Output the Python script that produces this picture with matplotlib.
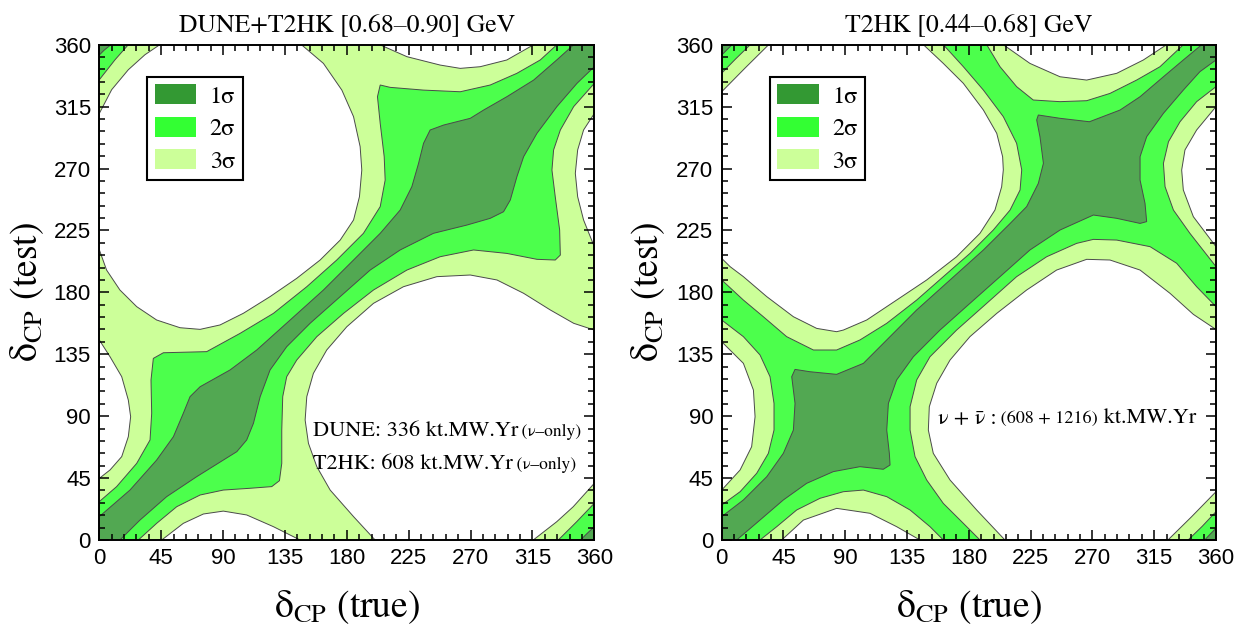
import matplotlib
matplotlib.use('Agg')
import matplotlib.pyplot as plt
from matplotlib.patches import Polygon, Patch
from matplotlib.ticker import MultipleLocator

plt.rcParams['mathtext.fontset'] = 'stix'
SERIF = ['STIXGeneral', 'DejaVu Serif']
SANS = ['Liberation Sans', 'DejaVu Sans']

# ---------------- data (degrees) ----------------
tick_values = [0, 45, 90, 135, 180, 225, 270, 315, 360]
legend_labels = ['1σ', '2σ', '3σ']
titles = ['DUNE+T2HK [0.68–0.90] GeV', 'T2HK [0.44–0.68] GeV']

# Left panel: contour regions (boundary points)
L_white_A = [(44, 360), (147, 360), (163, 346.4), (176.4, 327), (184.9, 307.7), (189.7, 285.9),
             (190.9, 268.9), (189.2, 249.5), (184.9, 232.6), (175.2, 218), (160.6, 203.5),
             (143.6, 190.2), (124.2, 176.9), (104.8, 164.8), (87.8, 156.3), (73.3, 153.1),
             (58.7, 154.3), (41.7, 159.9), (27.2, 169.6), (15, 181.7), (5.3, 196.2), (0, 211),
             (0, 310), (9, 327.3), (21.1, 341.8), (33.2, 352.7)]
L_white_B = [(200.6, 0), (184.9, 17), (167.9, 36.3), (158.2, 53.3), (152.1, 70.3), (149.7, 87.2),
             (150.9, 104.2), (155.7, 121.1), (165.4, 138.1), (180, 155), (199.4, 172),
             (221.2, 184.1), (245.5, 191.4), (269.8, 192.6), (289.2, 189), (308.6, 179.3),
             (328, 167.2), (345, 157.5), (360, 152.6), (360, 41.2), (344.7, 24.2),
             (332.7, 13.3), (315.6, 0)]
L_white_C = [(0, 145.4), (7.8, 133.2), (16.3, 118.7), (21.1, 101.7), (22.8, 89.6), (21.1, 75.1),
             (16.3, 60.6), (7.8, 50.9), (0, 44.8)]
L_white_D = [(204, 360), (223.7, 351.3), (247.9, 345.2), (262.5, 342.8), (277, 344),
             (296.4, 348.9), (315.9, 360)]
L_white_E = [(360, 310), (352.2, 298), (347.9, 283.5), (346.2, 266.5), (347.9, 249.5),
             (352.2, 232.6), (360, 213.2)]
L_white_F = [(45.4, 0), (61.1, 12.1), (75.7, 18.9), (90.2, 21), (107.2, 18.2), (126.6, 9.7),
             (146, 0)]
L_sig2_main = [(0, 0), (28.4, 0), (41.7, 12.1), (56.3, 24.2), (73.3, 32.7), (90.2, 36.3),
               (109.7, 37.6), (125.4, 38.8), (131, 43.1), (132.7, 55.7), (132.7, 79.9),
               (133.4, 104.2), (136.3, 118.7), (143.6, 130.8), (158.2, 147.8), (177.6, 164.7),
               (199.4, 181.7), (223.7, 196.2), (247.9, 205.9), (272.2, 210.8), (296.4, 208.3),
               (318.3, 204), (331.6, 203.5), (335.3, 207.1), (334.8, 225.3), (331.6, 249.5),
               (329.2, 268.9), (330.4, 283.5), (335.3, 298), (345, 315), (360, 331.9),
               (360, 360), (332.8, 360), (320.7, 348.9), (303.7, 339.2), (284.3, 330.7),
               (262.5, 325.8), (235.8, 327), (211.5, 329), (204.3, 330.7), (202.3, 322.2),
               (204.3, 302.8), (207.2, 278.6), (207.9, 261.6), (204.3, 242.3), (192.1, 222.9),
               (172.7, 203.5), (150.9, 184.1), (126.6, 164.7), (102.4, 150.2), (78.1, 136.9),
               (46.6, 136.1), (39.3, 132), (37.6, 116.3), (38.1, 92.1), (36.9, 72.7),
               (27.2, 55.7), (12.6, 38.8), (0, 27.9)]
L_sig2_TL = [(0, 360), (21.1, 360), (11.4, 349), (0, 334.5)]
L_sig2_BR = [(333.8, 0), (360, 0), (360, 26.7), (347.2, 13.3)]
L_sig1_main = [(0, 0), (15, 0), (29.6, 14.5), (49, 31.5), (70.8, 46), (90.2, 58.1), (100, 64.2),
               (107.2, 72.7), (112.1, 84.8), (117, 104.2), (124.2, 123.6), (136.3, 140.5),
               (153.3, 157.5), (175.2, 176.9), (197, 196.2), (218.8, 210.8), (243, 222.9),
               (267.3, 228.9), (284.3, 233.8), (294, 238.6), (298.9, 247.1), (303.7, 264),
               (308.6, 278.6), (318.3, 295.6), (332.8, 315), (347.4, 331.9), (360, 344),
               (360, 360), (345, 360), (332.8, 349), (315.9, 334.3), (296.4, 322.2),
               (279.5, 312.5), (269.8, 306.5), (250.4, 301.6), (240.6, 298), (235.8, 288.3),
               (232.2, 273.8), (227.3, 256.8), (218.8, 239.8), (204.3, 222.9), (184.9, 203.5),
               (163, 181.7), (138.8, 159.9), (114.5, 138.1), (95.1, 123.6), (73.3, 111.4),
               (66, 104.2), (61.1, 92.1), (53.9, 75.1), (41.7, 58.1), (22.3, 36.3), (0, 17)]
L_sig1_TL = [(0, 360), (8.5, 360), (3.5, 356), (0, 352.5)]
L_sig1_BR = [(350, 0), (360, 0), (360, 9.7), (354.5, 4.5)]

# Right panel
R_white_A = [(34.2, 360), (146.9, 360), (161.4, 346.4), (176, 331.9), (190.6, 312.5),
             (200.3, 295.6), (204.6, 278.6), (205.1, 269), (203.9, 256.8), (199, 239.8),
             (188.1, 222.9), (171.1, 205.9), (149.3, 189), (127.4, 174.4), (105.6, 159.9),
             (88.6, 152.6), (83.7, 151.4), (69.2, 153.8), (52.2, 162.3), (32.8, 176.9),
             (15.8, 191.4), (6.1, 198.7), (0, 204.7), (0, 325.8), (17, 343)]
R_white_B = [(206.3, 0), (185.7, 21.8), (166.3, 43.6), (154.1, 63), (150.5, 79.9), (151.2, 96.9),
             (156.6, 113.9), (166.3, 130.8), (180.8, 147.8), (200.3, 164.7), (222.1, 181.7),
             (243.9, 196.2), (265.8, 204), (282.8, 203.5), (304.7, 196.2), (326.5, 179.3),
             (343.5, 164), (360, 153), (360, 35.1), (342.2, 16.9), (325, 0)]
R_white_C = [(0, 144.1), (15.8, 128.4), (23.1, 109), (24.3, 89.6), (21.8, 67.8), (13.4, 50.9),
             (0, 36.3)]
R_white_D = [(205.1, 360), (224.5, 346.4), (246.4, 336.7), (265.8, 334.3), (287.7, 339.2),
             (307.1, 348.9), (324, 360)]
R_white_E = [(360, 315), (345.9, 298), (337.4, 283.5), (335, 268.9), (336.2, 254.4),
             (343.5, 235), (360, 213.2)]
R_white_F = [(43.7, 0), (59.5, 14.5), (83.7, 23), (108, 19.4), (127.4, 9.7), (144.4, 0)]
R_sig2_main = [(0, 0), (27.9, 0), (40.1, 9.7), (54.6, 21.8), (71.6, 30.3), (88.6, 35.1),
               (103.2, 36.3), (120.2, 31.5), (137.2, 21.8), (151.7, 9.7), (161.4, 0), (188.1, 0),
               (176, 12.1), (161.4, 26.6), (149.3, 43.6), (140.8, 60.6), (137.2, 79.9),
               (137.2, 96.9), (142, 116.3), (151.7, 133.2), (171.1, 152.6), (193, 172),
               (214.8, 191.4), (236.7, 205.9), (258.5, 215.6), (270.7, 218.5), (287.7, 218),
               (312, 213.2), (331.4, 201.1), (345.9, 184.1), (360, 169.6), (360, 198.7),
               (341, 222.9), (329, 239.8), (322.9, 256.8), (321.7, 273.8), (325.4, 289.5),
               (333.8, 304), (345.9, 318.6), (360, 329.5), (360, 360), (336.2, 360),
               (319.2, 344), (302.2, 334.3), (282.8, 324.6), (265.8, 319.3), (246.4, 318.6),
               (226.9, 319.8), (214.8, 329.5), (202.7, 344), (193, 360), (161.4, 360),
               (176, 344), (190.6, 327), (205.1, 307.7), (214.8, 288.3), (218.5, 269),
               (217.3, 254.4), (210, 239.8), (197.8, 225.3), (180.8, 208.3), (161.4, 191.4),
               (142, 174.4), (120.2, 157.5), (100.7, 145.4), (83.7, 138.1), (66.8, 138.1),
               (47.3, 147.8), (30.3, 162.3), (15.8, 174.4), (0, 189), (0, 159.9),
               (15.8, 147.8), (27.9, 134.5), (35.2, 118.7), (38.1, 99.3), (38.1, 79.9),
               (34, 63), (25.5, 48.5), (13.4, 35.1), (0, 25.4)]
R_sig2_TL = [(0, 360), (20.8, 360), (10, 349.5), (0, 339.3)]
R_sig2_BR = [(339.7, 0), (360, 0), (360, 20.6), (350, 10)]
R_sig1_main = [(0, 0), (10.9, 0), (27.9, 14.5), (44.9, 29.1), (61.9, 41.2), (81.3, 49.7),
               (100.7, 53.3), (117.7, 51.4), (122.6, 54.5), (122.1, 63), (120.2, 79.9),
               (121.4, 99.3), (127.4, 116.3), (139.6, 133.2), (159, 152.6), (180.8, 172),
               (202.7, 191.4), (224.5, 210.8), (246.4, 225.3), (270.7, 236.2), (287.7, 233.8),
               (304.7, 230.1), (309.5, 231.4), (308.3, 244.7), (304.7, 261.6), (304.7, 278.6),
               (309.5, 293.1), (321.7, 310.1), (336.2, 327), (348.3, 340.4), (360, 348.9),
               (360, 360), (349.6, 360), (336.2, 348.9), (321.7, 336.7), (304.7, 322.2),
               (290.1, 312.5), (267.8, 304), (246.4, 306.5), (230.6, 308.9), (229.4, 305.3),
               (231.8, 293.1), (234.3, 273.8), (230.6, 259.2), (222.1, 242.3), (210, 230),
               (190.6, 210.8), (166.3, 189), (142, 167.2), (120.2, 145.4), (103.2, 128.4),
               (83.7, 120.4), (64.3, 122.3), (53.4, 124), (51, 118.7), (53.4, 99.3),
               (52.2, 79.9), (44.9, 63), (32.8, 46), (15.8, 29.1), (0, 17)]
R_sig1_TL = [(0, 360), (7.5, 360), (3.5, 356), (0, 352.5)]
R_sig1_BR = [(351.8, 0), (360, 0), (360, 8.5), (355.5, 4)]

# ---------------- style ----------------
FILL1, FILL2, FILL3 = '#52a852', '#4cff4c', '#ccff99'
LEG1, LEG2, LEG3 = '#339933', '#33ff33', '#ccff99'
EDGE = '#4a4a4a'

fig = plt.figure(figsize=(12.57, 6.28), dpi=100)
axL = fig.add_axes([99.3 / 1257, 88 / 628, 495 / 1257, 495.3 / 628])
axR = fig.add_axes([721.7 / 1257, 88 / 628, 494.3 / 1257, 495.3 / 628])


def draw_panel(ax, whites, sig2, sig1, title, ylab_x):
    ax.set_facecolor(FILL3)
    for polys, fc, z in ((whites, 'white', 1.0), (sig2, FILL2, 1.1), (sig1, FILL1, 1.2)):
        for p in polys:
            ax.add_patch(Polygon(p, closed=True, fc=fc, ec=EDGE, lw=0.7, zorder=z))
    ax.set_xlim(tick_values[0], tick_values[-1])
    ax.set_ylim(tick_values[0], tick_values[-1])
    ax.set_xticks(tick_values)
    ax.set_yticks(tick_values)
    ax.xaxis.set_minor_locator(MultipleLocator(9))
    ax.yaxis.set_minor_locator(MultipleLocator(9))
    ax.tick_params(which='both', direction='in', top=True, right=True, width=1.1, colors='black')
    ax.tick_params(which='major', length=7.5, pad=6)
    ax.tick_params(which='minor', length=4.3)
    for lab in ax.get_xticklabels() + ax.get_yticklabels():
        lab.set_fontfamily(SANS)
        lab.set_fontsize(16)
    for s in ax.spines.values():
        s.set_linewidth(1.4)
        s.set_zorder(5)
    ax.set_title(title, fontfamily=SERIF, fontsize=18.5, pad=10)
    ax.set_xlabel('δ$_{\\mathrm{CP}}$ (true)', fontfamily=SERIF, fontsize=27)
    ax.xaxis.set_label_coords(0.5, -0.135)
    ax.xaxis.label.set_verticalalignment('center')
    ax.set_ylabel('δ$_{\\mathrm{CP}}$ (test)', fontfamily=SERIF, fontsize=27)
    ax.yaxis.set_label_coords(ylab_x, 0.5)
    ax.yaxis.label.set_verticalalignment('center')
    handles = [Patch(fc=LEG1, ec='none'), Patch(fc=LEG2, ec='none'), Patch(fc=LEG3, ec='none')]
    leg = ax.legend(handles, legend_labels, loc='upper left', bbox_to_anchor=(0.097, 0.935),
                    borderaxespad=0, prop={'family': SERIF, 'size': 17.5}, frameon=True,
                    fancybox=False, framealpha=1, edgecolor='black', handlelength=1.72,
                    handleheight=0.88, handletextpad=0.55, labelspacing=0.38, borderpad=0.3)
    leg.get_frame().set_linewidth(1.5)
    leg.set_zorder(6)


def chain_text(ax, x, y, parts):
    fig.canvas.draw()
    r = fig.canvas.get_renderer()
    cx = x
    for s, size in parts:
        t = ax.text(cx, y, s, fontfamily=SERIF, fontsize=size, va='baseline', ha='left', zorder=7)
        bb = t.get_window_extent(renderer=r)
        cx = ax.transData.inverted().transform((bb.x1, bb.y0))[0]


draw_panel(axL, [L_white_A, L_white_B, L_white_C, L_white_D, L_white_E, L_white_F],
           [L_sig2_main, L_sig2_TL, L_sig2_BR], [L_sig1_main, L_sig1_TL, L_sig1_BR],
           titles[0], -0.146)
draw_panel(axR, [R_white_A, R_white_B, R_white_C, R_white_D, R_white_E, R_white_F],
           [R_sig2_main, R_sig2_TL, R_sig2_BR], [R_sig1_main, R_sig1_TL, R_sig1_BR],
           titles[1], -0.149)

chain_text(axL, 155.2, 75.6, [('DUNE: 336 kt.MW.Yr', 16), ('\u2009(ν–only)', 12.5)])
chain_text(axL, 155.2, 51.6, [('T2HK: 608 kt.MW.Yr', 16), ('\u2009(ν–only)', 12.5)])
chain_text(axR, 157.7, 84.8, [('ν + \u03bd\u0304 :', 16),
                              ('\u2009(608 + 1216)', 13), (' kt.MW.Yr', 16)])

fig.savefig('out.png', dpi=100)
